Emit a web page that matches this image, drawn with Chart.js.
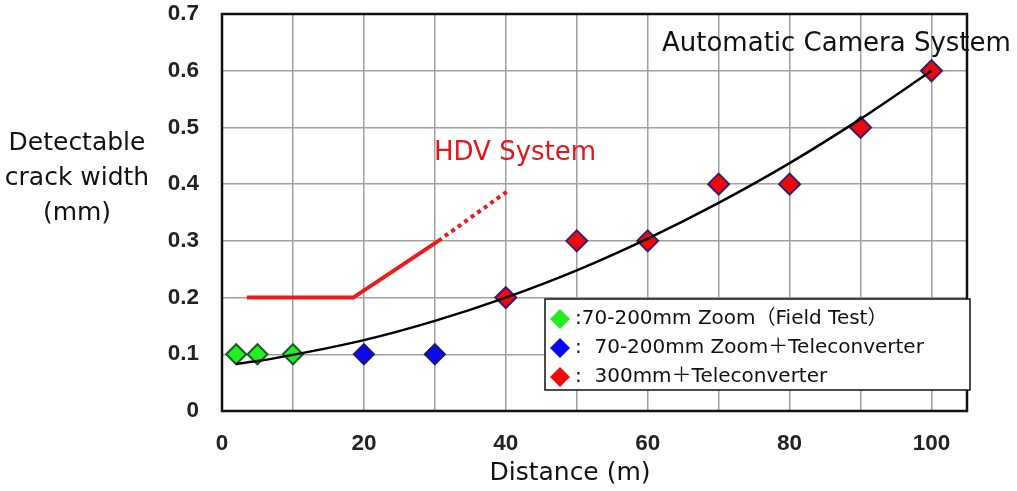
<!DOCTYPE html>
<html>
<head>
<meta charset="utf-8">
<script src="https://cdn.jsdelivr.net/npm/chart.js@4.4.1/dist/chart.umd.min.js"></script>
<style>
  html, body { margin: 0; padding: 0; background: #fff; }
  #wrap { width: 1017px; height: 491px; position: relative; }
</style>
</head>
<body>
<div id="wrap"><canvas id="myChart" width="1017" height="491"></canvas></div>
<script>
// values
const fieldTestX = [2, 5, 10];
const fieldTestY = [0.1, 0.1, 0.1];
const zoomTeleX = [20, 30];
const zoomTeleY = [0.1, 0.1];
const teleX = [40, 50, 60, 70, 80, 90, 100];
const teleY = [0.2, 0.3, 0.3, 0.4, 0.4, 0.5, 0.6];

// black fitted curve (Automatic Camera System)
const curveX = [2, 5, 10, 20, 30, 40, 50, 60, 70, 80, 90, 100];
const curveY = [0.083, 0.088, 0.099, 0.125, 0.159, 0.2, 0.248, 0.304, 0.367, 0.437, 0.515, 0.6];

// red HDV System line, solid part then dotted part
const hdvSolidX = [3.5, 18.5, 30.5];
const hdvSolidY = [0.2, 0.2, 0.3];
const hdvDotX = [30.5, 40.5];
const hdvDotY = [0.3, 0.39];

const xTicks = [0, 20, 40, 60, 80, 100];
const yTicks = [0, 0.1, 0.2, 0.3, 0.4, 0.5, 0.6, 0.7];

const legendLabels = [
    ':70-200mm Zoom（Field Test）',
    ':  70-200mm Zoom＋Teleconverter',
    ':  300mm＋Teleconverter'
];

function toPoints(xs, ys) {
    return xs.map(function (x, i) { return { x: x, y: ys[i] }; });
}

const textFont = '"DejaVu Sans", "Noto Sans CJK JP", sans-serif';
const tickFont = { family: '"Liberation Sans", Arial, sans-serif', size: 22.5, weight: 'bold' };

// plot frame, free texts and the boxed legend
const extrasPlugin = {
    id: 'extras',
    afterDatasetsDraw: function (chart) {
        const ctx = chart.ctx;
        const a = chart.chartArea;
        ctx.save();
        ctx.strokeStyle = '#111';
        ctx.lineWidth = 2.5;
        ctx.strokeRect(a.left, a.top, a.right - a.left, a.bottom - a.top);

        ctx.textBaseline = 'middle';
        ctx.font = '26px ' + textFont;
        ctx.fillStyle = '#e8141c';
        ctx.textAlign = 'left';
        ctx.fillText('HDV System', 434, 153);
        ctx.fillStyle = '#111';
        ctx.font = '26px ' + textFont;
        ctx.fillText('Automatic Camera System', 662, 44);

        ctx.font = '25px ' + textFont;
        ctx.textAlign = 'center';
        ctx.fillText('Detectable', 77, 143);
        ctx.fillText('crack width', 77, 178);
        ctx.fillText('(mm)', 77, 213);
        ctx.fillText('Distance (m)', 570, 473);

        // legend box
        const bx = 545, by = 299, bw = 425, bh = 91;
        ctx.fillStyle = '#fff';
        ctx.fillRect(bx, by, bw, bh);
        ctx.strokeStyle = '#111';
        ctx.lineWidth = 1.5;
        ctx.strokeRect(bx, by, bw, bh);
        const colors = ['#22ee22', '#0a0aee', '#ee0a0a'];
        ctx.font = '20px ' + textFont;
        ctx.textAlign = 'left';
        legendLabels.forEach(function (label, i) {
            const cy = by + 20 + i * 29;
            const cx = bx + 15;
            ctx.fillStyle = colors[i];
            ctx.beginPath();
            ctx.moveTo(cx, cy - 10);
            ctx.lineTo(cx + 10, cy);
            ctx.lineTo(cx, cy + 10);
            ctx.lineTo(cx - 10, cy);
            ctx.closePath();
            ctx.fill();
            ctx.fillStyle = '#111';
            ctx.fillText(label, cx + 15, cy);
        });
        ctx.restore();
    }
};

const ctx = document.getElementById('myChart').getContext('2d');
const myChart = new Chart(ctx, {
    type: 'scatter',
    data: {
        datasets: [
            {
                label: 'Automatic Camera System',
                type: 'line',
                data: toPoints(curveX, curveY),
                borderColor: '#000',
                borderWidth: 2.5,
                pointRadius: 0,
                cubicInterpolationMode: 'monotone',
                fill: false,
                order: 1
            },
            {
                label: 'HDV System',
                type: 'line',
                data: toPoints(hdvSolidX, hdvSolidY),
                borderColor: '#ee1a1a',
                borderWidth: 4,
                pointRadius: 0,
                tension: 0,
                fill: false,
                order: 2
            },
            {
                label: 'HDV System (extrapolated)',
                type: 'line',
                data: toPoints(hdvDotX, hdvDotY),
                borderColor: '#ee1a1a',
                borderWidth: 4,
                borderDash: [4, 4],
                pointRadius: 0,
                tension: 0,
                fill: false,
                order: 2
            },
            {
                label: '70-200mm Zoom (Field Test)',
                data: toPoints(fieldTestX, fieldTestY),
                pointStyle: 'rectRot',
                pointRadius: 10,
                backgroundColor: '#22ee22',
                borderColor: '#1d5a2a',
                borderWidth: 2,
                order: 3
            },
            {
                label: '70-200mm Zoom + Teleconverter',
                data: toPoints(zoomTeleX, zoomTeleY),
                pointStyle: 'rectRot',
                pointRadius: 10,
                backgroundColor: '#0a0aee',
                borderColor: '#1a1a6a',
                borderWidth: 2,
                order: 3
            },
            {
                label: '300mm + Teleconverter',
                data: toPoints(teleX, teleY),
                pointStyle: 'rectRot',
                pointRadius: 10.5,
                backgroundColor: '#ee0a0a',
                borderColor: '#3a1a6e',
                borderWidth: 2,
                order: 3
            }
        ]
    },
    options: {
        responsive: false,
        animation: false,
        layout: { padding: { left: 0, right: 50, top: 14, bottom: 0 } },
        plugins: {
            legend: { display: false },
            tooltip: { enabled: false }
        },
        scales: {
            x: {
                type: 'linear',
                min: 0,
                max: 105,
                afterFit: function (scale) {
                    scale.height = 80;
                    scale.paddingLeft = 0;
                    scale.paddingRight = 0;
                },
                afterBuildTicks: function (scale) {
                    const t = [];
                    for (let v = 0; v <= 100; v += 10) t.push({ value: v });
                    t.push({ value: 105 });
                    scale.ticks = t;
                },
                ticks: {
                    autoSkip: false,
                    maxRotation: 0,
                    padding: 19,
                    color: '#222',
                    font: tickFont,
                    callback: function (v) { return xTicks.indexOf(v) >= 0 ? String(v) : ''; }
                },
                grid: { color: '#a0a0a0', lineWidth: 1.5, drawTicks: false },
                border: { display: false }
            },
            y: {
                min: 0,
                max: 0.7,
                afterFit: function (scale) {
                    scale.width = 222;
                    scale.paddingTop = 0;
                    scale.paddingBottom = 0;
                },
                afterBuildTicks: function (scale) {
                    scale.ticks = yTicks.map(function (v) { return { value: v }; });
                },
                ticks: {
                    padding: 23,
                    color: '#222',
                    font: tickFont,
                    callback: function (v) { return v === 0 ? '0' : v.toFixed(1); }
                },
                grid: { color: '#a0a0a0', lineWidth: 1.5, drawTicks: false },
                border: { display: false }
            }
        }
    },
    plugins: [extrasPlugin]
});
</script>
</body>
</html>
